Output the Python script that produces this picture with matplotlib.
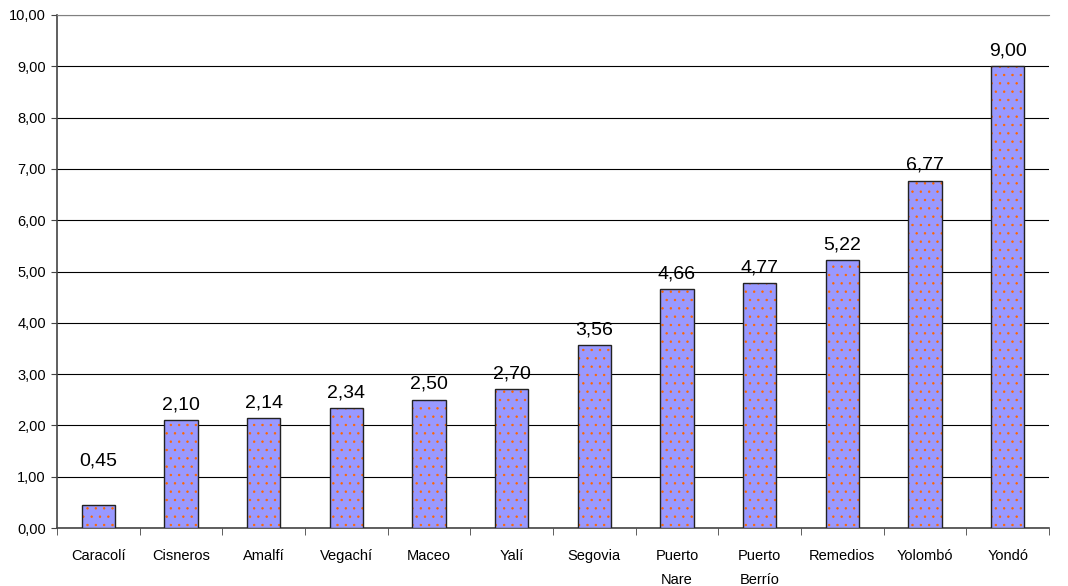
import numpy as np
import matplotlib.pyplot as plt

# Datos
municipios = ['Caracolí', 'Cisneros', 'Amalfí', 'Vegachí', 'Maceo', 'Yalí', 'Segovia',
              'Puerto\nNare', 'Puerto\nBerrío', 'Remedios', 'Yolombó', 'Yondó']
valores = [0.45, 2.10, 2.14, 2.34, 2.50, 2.70, 3.56, 4.66, 4.77, 5.22, 6.77, 9.00]

plt.rcParams['font.family'] = 'Liberation Sans'
plt.rcParams['hatch.linewidth'] = 0.5

fig = plt.figure(figsize=(10.68, 5.86), dpi=100)
ax = fig.add_axes([57 / 1068, 1 - 528 / 586, (1049 - 57) / 1068, (528 - 15) / 586])

x = np.arange(len(municipios))
# relleno con puntos naranjas
ax.bar(x, valores, width=0.4, color='#9999ff', edgecolor='#ff6600', linewidth=0,
       hatch='..', zorder=3)
# borde
ax.bar(x, valores, width=0.4, fill=False, edgecolor='#222222', linewidth=1.0, zorder=4)

for xi, v in zip(x, valores):
    ax.annotate(f'{v:.2f}'.replace('.', ','), (xi, max(v, 1.0)), xytext=(0, 11),
                textcoords='offset points', ha='center', va='center',
                fontsize=14, zorder=5)

ax.set_xlim(-0.5, len(municipios) - 0.5)
ax.set_ylim(0, 10)
ax.set_yticks(np.arange(0, 11, 1))
ax.set_yticklabels([f'{t:.2f}'.replace('.', ',') for t in range(11)], fontsize=10.5)
ax.yaxis.grid(True, color='black', linewidth=0.8, zorder=0)
ax.tick_params(axis='y', length=4, direction='out', color='#444444', pad=4)

ax.set_xticks(x)
ax.set_xticklabels(municipios, fontsize=10.5, linespacing=1.9)
ax.tick_params(axis='x', length=0, pad=15)
ax.set_xticks(np.arange(-0.5, len(municipios)), minor=True)
ax.tick_params(axis='x', which='minor', length=5, color='#444444')

ax.spines['right'].set_visible(False)
ax.spines['top'].set_color('#808080')
ax.spines['left'].set_color('#444444')
ax.spines['bottom'].set_color('#444444')
ax.spines['left'].set_linewidth(1.2)
ax.spines['bottom'].set_linewidth(1.2)

fig.savefig('out.png', dpi=100)
